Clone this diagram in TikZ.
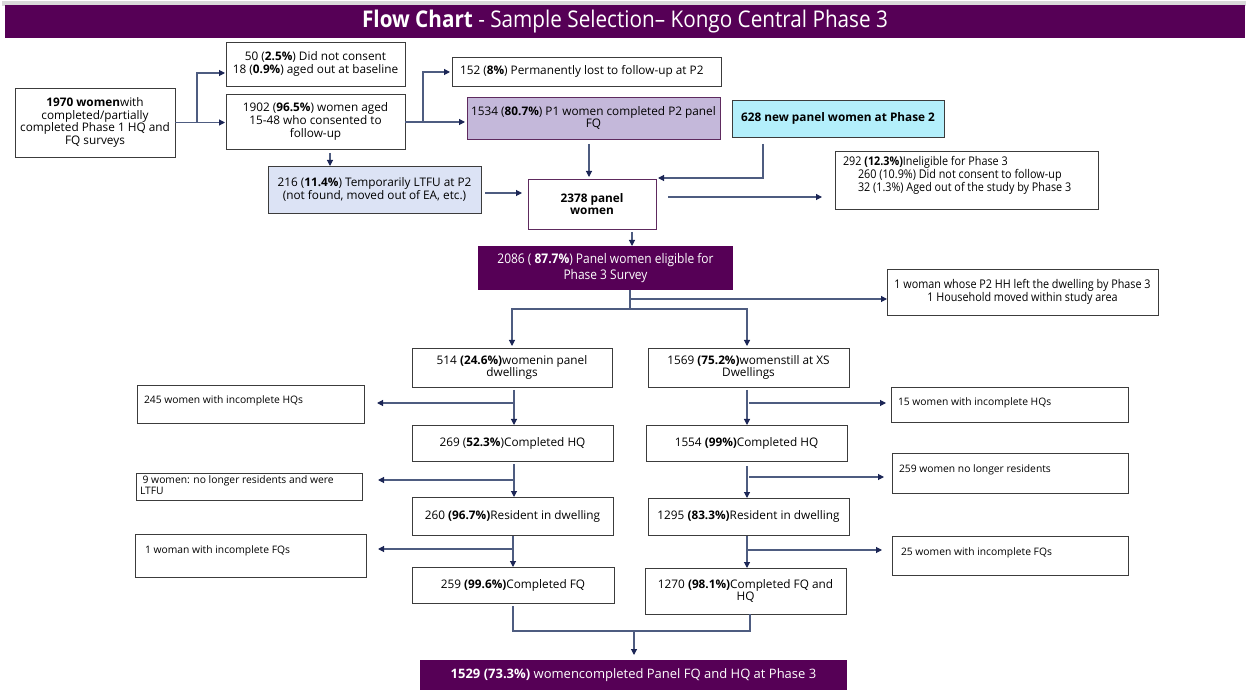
\documentclass[tikz,border=0pt]{standalone}
\usepackage{fontspec}
\setmainfont{Open Sans}
\newfontfamily\cond[FakeStretch=0.9]{Open Sans}
\usetikzlibrary{arrows.meta}
\definecolor{plum}{RGB}{86,0,86}
\definecolor{plumline}{RGB}{94,42,94}
\definecolor{lav}{RGB}{196,184,218}
\definecolor{paleblue}{RGB}{220,227,245}
\definecolor{cyanbox}{RGB}{179,239,251}
\definecolor{bordc}{RGB}{60,60,60}
\definecolor{linec}{RGB}{78,92,128}
\definecolor{tipc}{RGB}{28,38,86}
\newcommand\mainsz{\fontsize{11.8}{12.8}\selectfont}
\newcommand\smallsz{\fontsize{10.3}{10.8}\selectfont}
\newcommand\condsz{\cond\fontsize{12}{11.5}\selectfont}
\newcommand\bx[7]{\node[#6, anchor=north west, minimum width={(#4)-(#2)}, minimum height={(#5)-(#3)}] (#1) at (#2,#3) {#7};}
\begin{document}
\begin{tikzpicture}[x=1pt,y=-1pt,
  box/.style={draw=bordc, line width=0.9pt, fill=white, inner sep=1pt, outer sep=0pt, align=center, font=\mainsz},
  ln/.style={draw=linec, line width=1.1pt},
  arr/.style={ln, -{Triangle[length=6pt,width=6pt,color=tipc]}},
  lbl/.style={inner sep=0pt, outer sep=0pt, align=left, font=\smallsz}
]
\useasboundingbox (0,0) rectangle (1248,692);
\fill[gray!30] (2,1) rectangle (1246,6);
\node[fill=plum, anchor=north west, minimum width=1240, minimum height=33, inner sep=0pt, outer sep=0pt,
  text=white, font=\cond\fontsize{23}{26}\selectfont] (title) at (5,5)
  {\textbf{Flow Chart} - Sample Selection– Kongo Central Phase 3};

\bx{b1970}{15}{88}{175}{157}{box}{\textbf{1970 women}with\\completed/partially\\completed Phase 1 HQ and\\FQ surveys}
\bx{b50}{226}{42}{405}{86}{box}{50 (\textbf{2.5\%}) Did not consent\\18 (\textbf{0.9\%}) aged out at baseline}
\bx{b1902}{226}{94}{405}{149}{box}{1902 (\textbf{96.5\%}) women aged\\15-48 who consented to\\follow-up}
\bx{b216}{268}{166}{481}{213}{box, fill=paleblue}{216 (\textbf{11.4\%}) Temporarily LTFU at P2\\(not found, moved out of EA, etc.)}
\bx{b152}{452}{57}{721}{86}{box}{}
\node[lbl, font=\mainsz, anchor=west] (t152) at ([xshift=8pt]b152.west) {152 (\textbf{8\%}) Permanently lost to follow-up at P2};
\bx{b1534}{467}{97}{720}{139}{box, fill=lav, draw=plumline}{1534 (\textbf{80.7\%}) P1 women completed P2 panel\\FQ}
\bx{b628}{732}{100}{944}{137}{box, fill=cyanbox}{\textbf{628 new panel women at Phase 2}}
\bx{b2378}{528}{179}{656}{229}{box, draw=plumline}{\textbf{2378 panel}\\\textbf{women}}
\bx{b292}{835}{151}{1098}{209}{box}{}
\node[lbl, font=\condsz, anchor=base west] (t292) at ([xshift=8pt,yshift=-41pt]b292.north west)
  {292 \textbf{(12.3\%)}Ineligible for Phase 3\\\hspace*{15pt}260 (10.9\%) Did not consent to follow-up\\\hspace*{15pt}32 (1.3\%) Aged out of the study by Phase 3};
\bx{b2086}{478}{246}{733}{290}{box, fill=plum, draw=none, text=white, font=\cond\fontsize{13.3}{16}\selectfont}{2086 ( \textbf{87.7\%}) Panel women eligible for\\Phase 3 Survey}
\bx{b1w}{887}{269}{1158}{315}{box, font=\cond\fontsize{12}{13}\selectfont}{1 woman whose P2 HH left the dwelling by Phase 3\\1 Household moved within study area}

\bx{b514}{412}{348}{612}{387}{box}{514 \textbf{(24.6\%)}womenin panel\\dwellings}
\bx{b1569}{648}{348}{849}{387}{box}{1569 \textbf{(75.2\%)}womenstill at XS\\Dwellings}
\bx{b245}{137}{385}{364}{423}{box}{}
\node[lbl, anchor=base west] (t245) at ([xshift=7pt,yshift=-19pt]b245.north west) {245 women with incomplete HQs};
\bx{b269}{412}{425}{613}{461}{box}{269 (\textbf{52.3\%})Completed HQ}
\bx{b15}{891}{387}{1128}{422}{box}{}
\node[lbl, anchor=base west] (t15) at ([xshift=7pt,yshift=-19pt]b15.north west) {15 women with incomplete HQs};
\bx{b1554}{646}{425}{847}{461}{box}{1554 \textbf{(99\%)}Completed HQ}
\bx{b9}{136}{473}{362}{500}{box}{}
\node[lbl, anchor=base west] (t9) at ([xshift=4pt,yshift=-21pt]b9.north west) {\ 9 women: no longer residents and were\\LTFU};
\bx{b260}{412}{497}{613}{535}{box}{260 \textbf{(96.7\%)}Resident in dwelling}
\bx{b259w}{892}{453}{1128}{493}{box}{}
\node[lbl, anchor=base west] (t259w) at ([xshift=7pt,yshift=-19pt]b259w.north west) {259 women no longer residents};
\bx{b1295}{648}{498}{849}{535}{box}{1295 \textbf{(83.3\%)}Resident in dwelling}
\bx{b1wfq}{135}{534}{366}{577}{box}{}
\node[lbl, anchor=base west] (t1wfq) at ([xshift=10pt,yshift=-19pt]b1wfq.north west) {1 woman with incomplete FQs};
\bx{b259}{412}{567}{614}{603}{box}{259 \textbf{(99.6\%)}Completed FQ}
\bx{b25}{892}{536}{1128}{575}{box}{}
\node[lbl, anchor=base west] (t25) at ([xshift=9pt,yshift=-19pt]b25.north west) {25 women with incomplete FQs};
\bx{b1270}{645}{568}{846}{614}{box}{1270 \textbf{(98.1\%)}Completed FQ and\\HQ}
\bx{bfin}{420}{660}{847}{690}{box, fill=plum, draw=none, text=white, font=\fontsize{13}{14}\selectfont}{\textbf{1529 (73.3\%)} womencompleted Panel FQ and HQ at Phase 3}

% connectors, top part
\draw[arr, shorten >=1pt] (b1970.east) -- (b1970.east -| b1902.west);
\coordinate (j1) at (197,122);
\draw[arr, shorten >=1pt] (j1) |- (b50.west |- 0,73);
\draw[arr, shorten <=4pt] (330,0 |- b1902.south) -- (330,0 |- b216.north);
\draw[arr, shorten >=2pt] (b1902.east |- 0,122) -- (b1534.west |- 0,122);
\coordinate (j2) at (423,122);
\draw[arr, shorten >=2pt] (j2) |- (b152.west |- 0,72);
\draw[arr, shorten <=5pt, shorten >=2pt] (589,0 |- b1534.south) -- (589,0 |- b2378.north);
\draw[arr, shorten <=7pt, shorten >=2pt] (763,0 |- b628.south) |- (b2378.east |- 0,178);
\draw[arr, shorten <=4pt, shorten >=6pt] (b216.east |- 0,193) -- (b2378.west |- 0,193);
\draw[arr, shorten <=12pt, shorten >=13pt] (b2378.east |- 0,197) -- (b292.west |- 0,197);
\draw[arr, shorten <=3pt] (632,0 |- b2378.south) -- (632,0 |- b2086.north);
% middle split
\coordinate (j3) at (630,309);
\coordinate (j4) at (630,299);
\draw[ln] (630,0 |- b2086.south) -- (j3);
\draw[arr] (j4) -- (b1w.west |- j4);
\draw[arr, shorten >=2pt] (j3) -| (512,0 |- b514.north);
\draw[arr, shorten >=2pt] (j3) -| (747,0 |- b1569.north);
% left chain
\draw[arr, shorten <=3pt] (514,0 |- b514.south) -- (514,0 |- b269.north);
\draw[arr, shorten >=13pt] (514,403) -- (b245.east |- 0,403);
\draw[arr, shorten <=3pt] (514,0 |- b269.south) -- (514,0 |- b260.north);
\draw[arr, shorten >=16pt] (514,480) -- (b9.east |- 0,480);
\draw[arr, shorten <=1pt] (513,0 |- b260.south) -- (513,0 |- b259.north);
\draw[arr, shorten >=12pt] (513,549) -- (b1wfq.east |- 0,549);
% right chain
\draw[arr, shorten <=3pt] (747,0 |- b1569.south) -- (747,0 |- b1554.north);
\draw[arr, shorten >=5pt] (749,403) -- (b15.west |- 0,403);
\draw[arr, shorten <=5pt] (747,0 |- b1554.south) -- (747,0 |- b1295.north);
\draw[arr, shorten >=8pt] (749,477) -- (b259w.west |- 0,477);
\draw[arr, shorten <=1pt] (747,0 |- b1295.south) -- (747,0 |- b1270.north);
\draw[arr, shorten >=10pt] (747,550) -- (b25.west |- 0,550);
% bottom merge
\coordinate (j5) at (634,631);
\draw[ln, shorten <=3pt] (513,0 |- b259.south) |- (j5);
\draw[ln] (j5) -| (750,0 |- b1270.south);
\draw[arr, shorten >=5pt] (j5) -- (634,0 |- bfin.north);
\end{tikzpicture}
\end{document}
